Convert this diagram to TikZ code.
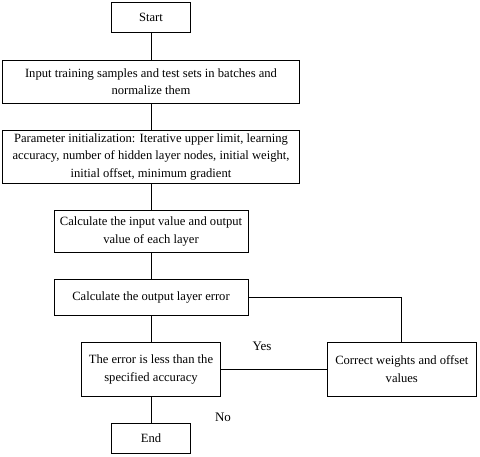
\documentclass[tikz,border=0pt]{standalone}
\usepackage{fontspec}
\setmainfont{Liberation Serif}
\begin{document}
\begin{tikzpicture}[x=1pt,y=-1pt,
  box/.style={draw, line width=0.8pt, align=center, inner sep=0pt,
    font=\fontsize{12.6}{17.5}\selectfont},
  conn/.style={line width=0.8pt},
  lbl/.style={font=\fontsize{13}{15}\selectfont}]
\useasboundingbox (0,0) rectangle (480,457);
\node[box, minimum width=79pt, minimum height=30pt] (start) at (151,17) {Start};
\node[box, minimum width=297pt, minimum height=43pt] (input) at (151,81.5) {Input training samples and test sets in batches and\\normalize them};
\node[box, minimum width=297pt, minimum height=53pt] (param) at (151,156.5) {Parameter initialization: Iterative upper limit, learning\\accuracy, number of hidden layer nodes, initial weight,\\initial offset, minimum gradient};
\node[box, minimum width=194pt, minimum height=41.5pt] (calc) at (151,231.5) {Calculate the input value and output\\value of each layer};
\node[box, minimum width=194pt, minimum height=36.5pt] (err) at (151,297.5) {Calculate the output layer error};
\node[box, minimum width=139.5pt, minimum height=53.5pt] (cmp) at (151,369.3) {The error is less than the\\specified accuracy};
\node[box, minimum width=149.5pt, minimum height=53.5pt] (corr) at (401.8,369.3) {Correct weights and offset\\values};
\node[box, minimum width=79pt, minimum height=30pt] (end) at (151,438.3) {End};
\draw[conn] (start) -- (input);
\draw[conn] (input) -- (param);
\draw[conn] (param) -- (calc);
\draw[conn] (calc) -- (err);
\draw[conn] (err) -- (cmp);
\draw[conn] (cmp) -- (end);
\draw[conn] (cmp) -- (corr);
\draw[conn] (err.east) -| (corr.north);
\node[lbl] (yes) at (262,346) {Yes};
\node[lbl] (no) at (223,417) {No};
\end{tikzpicture}
\end{document}
